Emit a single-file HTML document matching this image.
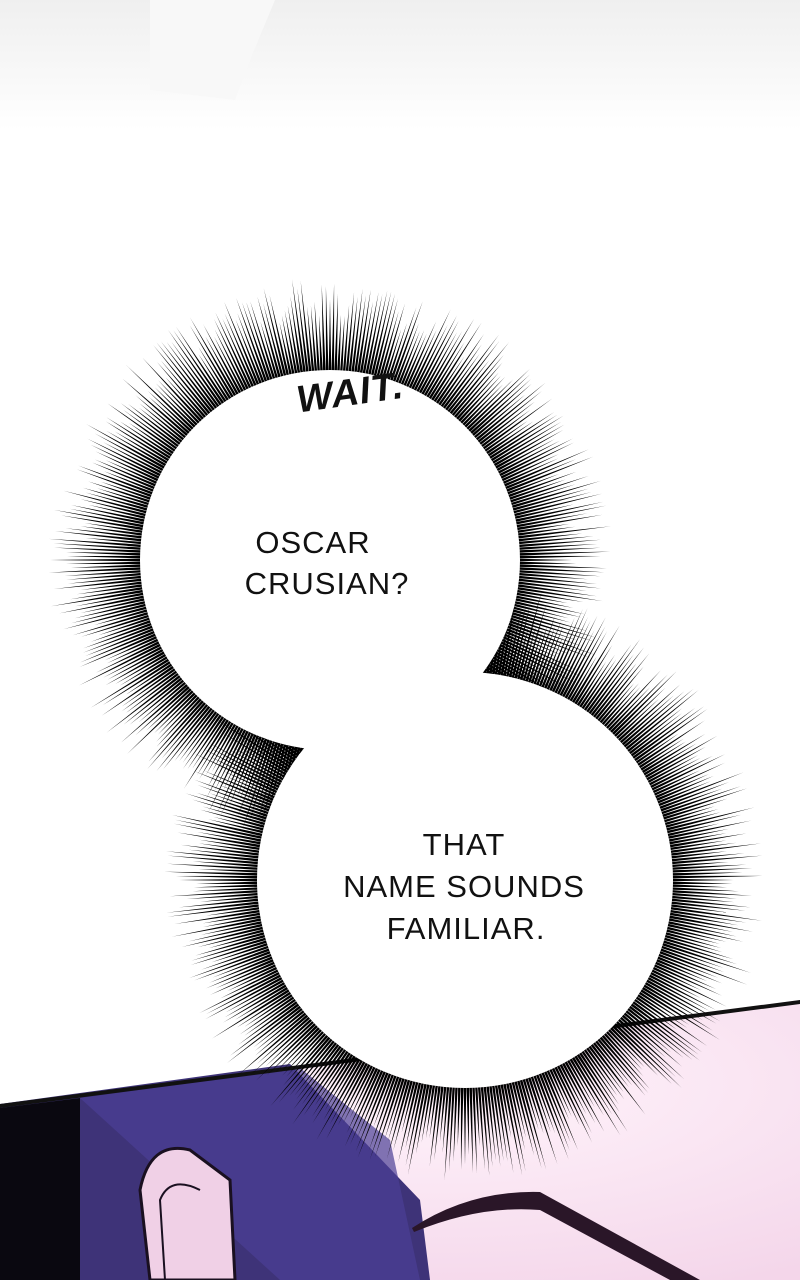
<!DOCTYPE html>
<html><head><meta charset="utf-8"><style>
html,body{margin:0;padding:0;width:800px;height:1280px;overflow:hidden;background:#fff}
svg{display:block}
text{font-family:"Liberation Sans",sans-serif;font-size:31px;fill:#111;text-anchor:middle;letter-spacing:1px}
</style></head><body>
<svg id="s" width="800" height="1280" viewBox="0 0 800 1280" xmlns="http://www.w3.org/2000/svg">
<defs>
<linearGradient id="bg" x1="0" y1="0" x2="0" y2="1"><stop offset="0" stop-color="#efefef"/><stop offset="1" stop-color="#ffffff"/></linearGradient>
<radialGradient id="skin" cx="0.55" cy="0.3" r="0.8"><stop offset="0" stop-color="#fff4fb"/><stop offset="1" stop-color="#f4d6ea"/></radialGradient>
</defs>
<rect x="0" y="0" width="800" height="130" fill="url(#bg)"/>
<path d="M150 0 L275 0 L250 60 L235 100 L150 90 Z" fill="#f8f8f8"/>
<polygon points="0,1104 800,1000 800,1280 0,1280" fill="url(#skin)"/>
<polygon points="0,1104 290,1064 420,1200 430,1280 0,1280" fill="#3e3378"/>
<polygon points="0,1108 80,1098 80,1280 0,1280" fill="#0a0810"/>
<polygon points="80,1098 300,1068 390,1140 420,1280 280,1280" fill="#4b3e96" opacity="0.7"/>
<path d="M150 1280 L140 1190 Q150 1140 190 1150 L230 1180 L235 1280 Z" fill="#f0d0e6" stroke="#1a1020" stroke-width="3"/>
<path d="M165 1280 L160 1200 Q170 1175 200 1190" fill="none" stroke="#1a1020" stroke-width="2"/>
<polygon points="0,1104 800,1000 800,1004 0,1108" fill="#111"/>
<path d="M412 1228 Q470 1190 540 1192 L700 1280 L670 1280 L540 1210 Q480 1205 414 1232 Z" fill="#2a1628"/>
<g id="spk"></g>
<circle cx="330" cy="560" r="190" fill="#fff"/>
<circle cx="465" cy="880" r="208" fill="#fff"/>
<path d="M300 745 Q380 700 478 683 L520 700 L440 760 Z" fill="#fff"/>
<text x="313" y="553">OSCAR</text>
<text x="327" y="594">CRUSIAN?</text>
<text x="464" y="855">THAT</text>
<text x="464" y="897">NAME SOUNDS</text>
<text x="466" y="939">FAMILIAR.</text>
<text x="352" y="405" transform="rotate(-8 352 405)" style="font-family:'Liberation Sans',sans-serif;font-style:italic;font-weight:bold;font-size:38px;fill:#111">WAIT.</text>
</svg>
<script>
var g=document.getElementById('spk'),h="";
function sp(cx,cy,r,L,n){for(var i=0;i<n;i++){var a=i/n*Math.PI*2,l=L*(0.6+Math.random()*0.5),da=1.3/r;
var R0=r-2,x1=cx+Math.cos(a-da)*R0,y1=cy+Math.sin(a-da)*R0,x3=cx+Math.cos(a+da)*R0,y3=cy+Math.sin(a+da)*R0,x2=cx+Math.cos(a)*(r+l),y2=cy+Math.sin(a)*(r+l);
h+='<polygon points="'+x1.toFixed(1)+','+y1.toFixed(1)+' '+x2.toFixed(1)+','+y2.toFixed(1)+' '+x3.toFixed(1)+','+y3.toFixed(1)+'" fill="#000"/>';}}
sp(330,560,190,85,420);sp(465,880,208,85,460);
g.innerHTML=h;
</script>
</body></html>
